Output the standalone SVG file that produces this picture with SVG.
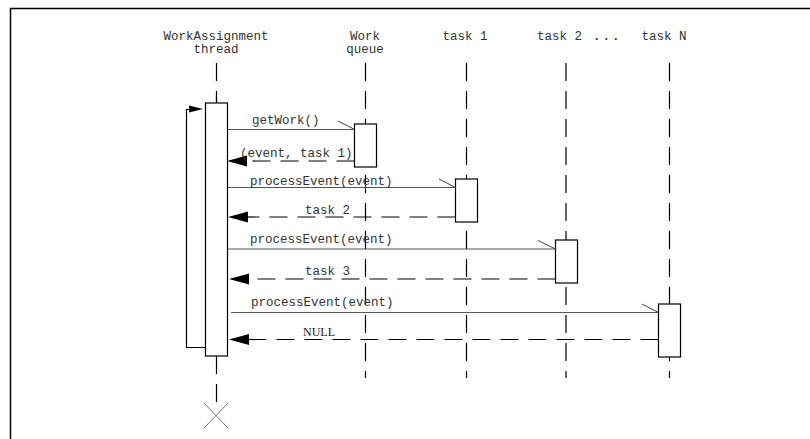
<svg xmlns="http://www.w3.org/2000/svg" width="810" height="439" viewBox="0 0 810 439">
<style>
  .lbl { font-family: "Liberation Mono", "Courier New", monospace; font-size: 12.5px; fill: #333; }
  .ser { font-family: "Liberation Serif", "Times New Roman", serif; font-size: 12px; fill: #222; }
  .life { stroke: #000; stroke-width: 1.2; stroke-dasharray: 18 10; fill: none; }
  .act { fill: #fff; stroke: #000; stroke-width: 1.2; }
  .call { stroke: #555; stroke-width: 1.2; fill: none; }
  .half { stroke: #444; stroke-width: 1; fill: none; }
  .ret { stroke: #000; stroke-width: 1.2; stroke-dasharray: 18 10; fill: none; }
</style>
<rect width="810" height="439" fill="#fff"/>
<path d="M10.5,445 L10.5,8.5 L815,8.5" stroke="#000" stroke-width="1.5" fill="none"/>

<g id="thread">
  <text class="lbl" x="216" y="40" text-anchor="middle">WorkAssignment</text>
  <text class="lbl" x="216" y="53" text-anchor="middle">thread</text>
  <line class="life" x1="216.5" y1="63" x2="216.5" y2="103"/>
  <path d="M205,347.5 L186.5,347.5 L186.5,109.5 L190,109.5" stroke="#000" stroke-width="1.2" fill="none"/>
  <path d="M203,109 L189,105.5 L189,112.5 Z" fill="#000"/>
  <rect class="act" x="205.5" y="103" width="22" height="253"/>
  <line x1="216.5" y1="97" x2="216.5" y2="103" stroke="#000" stroke-width="1.2"/>
  <line class="life" x1="216.5" y1="356" x2="216.5" y2="412"/>
  <path d="M204,403 L228,428 M228,403 L204,428" stroke="#777" stroke-width="1"/>
</g>

<g id="workqueue">
  <text class="lbl" x="365" y="40" text-anchor="middle">Work</text>
  <text class="lbl" x="365" y="53" text-anchor="middle">queue</text>
  <line class="life" x1="365.5" y1="63" x2="365.5" y2="378"/>
  <rect class="act" x="354.5" y="124" width="22" height="43"/>
</g>

<g id="task1">
  <text class="lbl" x="465" y="40" text-anchor="middle">task 1</text>
  <line class="life" x1="466.5" y1="63" x2="466.5" y2="378"/>
  <rect class="act" x="455.5" y="179" width="22" height="43"/>
</g>

<g id="task2">
  <text class="lbl" x="537" y="40">task 2</text>
  <text class="lbl" x="593" y="40" style="font-weight:bold;letter-spacing:2px">...</text>
  <line class="life" x1="566" y1="63" x2="566" y2="378"/>
  <rect class="act" x="555.5" y="240" width="22" height="43"/>
</g>

<g id="taskN">
  <text class="lbl" x="664" y="40" text-anchor="middle">task N</text>
  <line class="life" x1="669.5" y1="63" x2="669.5" y2="378"/>
  <rect class="act" x="658.5" y="304" width="22" height="53"/>
</g>

<g id="connectors">
  <line class="call" x1="228" y1="129.5" x2="354.5" y2="129.5"/>
  <line class="half" x1="338" y1="121" x2="354.5" y2="129.5"/>
  <text class="lbl" x="252" y="124">getWork()</text>

  <line class="ret" x1="354.5" y1="161" x2="247" y2="161"/>
  <path d="M227,161 L247,155.5 L247,166.5 Z" fill="#000"/>
  <text class="lbl" x="240" y="157">(event, task 1)</text>

  <line class="call" x1="228" y1="187.5" x2="455.5" y2="187.5"/>
  <line class="half" x1="439" y1="179" x2="455.5" y2="187.5"/>
  <text class="lbl" x="250" y="185">processEvent(event)</text>

  <line class="ret" x1="455.5" y1="217" x2="247" y2="217"/>
  <path d="M228,217 L248,211.5 L248,222.5 Z" fill="#000"/>
  <text class="lbl" x="305" y="214">task 2</text>

  <line class="call" x1="228" y1="249" x2="555.5" y2="249"/>
  <line class="half" x1="538" y1="240.5" x2="555.5" y2="249"/>
  <text class="lbl" x="250" y="243">processEvent(event)</text>

  <line class="ret" x1="555.5" y1="279" x2="248" y2="279"/>
  <path d="M229,279 L249,273.5 L249,284.5 Z" fill="#000"/>
  <text class="lbl" x="305" y="275">task 3</text>

  <line class="call" x1="231" y1="312.5" x2="658.5" y2="312.5"/>
  <line class="half" x1="642" y1="304" x2="658.5" y2="312.5"/>
  <text class="lbl" x="251" y="306">processEvent(event)</text>

  <line class="ret" x1="658.5" y1="339.5" x2="248" y2="339.5"/>
  <path d="M229,339.5 L249,334 L249,345 Z" fill="#000"/>
  <text class="ser" x="303" y="336">NULL</text>
</g>
</svg>
